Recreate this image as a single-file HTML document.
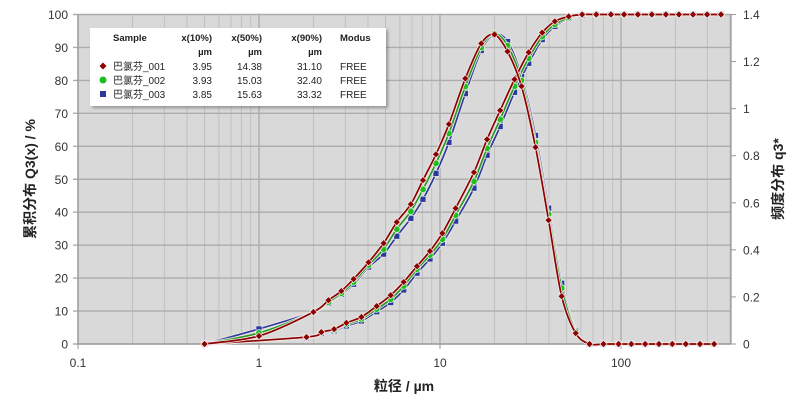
<!DOCTYPE html>
<html><head><meta charset="utf-8"><style>
body{margin:0;background:#fff;width:800px;height:414px;overflow:hidden}
svg text{font-family:"Liberation Sans","Noto Sans CJK SC",sans-serif}
</style></head><body>
<svg id="chart" width="800" height="414" xmlns="http://www.w3.org/2000/svg">
<defs><filter id="sh" x="-5%" y="-5%" width="115%" height="125%"><feDropShadow dx="2" dy="2" stdDeviation="1.5" flood-color="#666" flood-opacity="0.6"/></filter></defs>
<rect x="78" y="14.5" width="653" height="329.5" fill="#d9d9d9"/>
<g id="grid"></g>
<g id="axes"></g>
<g id="series"></g>
<g font-size="10" fill="#222">
<rect x="90" y="28" width="296" height="78" fill="#fff" filter="url(#sh)"/>
<text x="113" y="41" font-weight="bold" font-size="9.5">Sample</text>
<text x="212" y="41" text-anchor="end" font-weight="bold" font-size="9.5">x(10%)</text>
<text x="262" y="41" text-anchor="end" font-weight="bold" font-size="9.5">x(50%)</text>
<text x="322" y="41" text-anchor="end" font-weight="bold" font-size="9.5">x(90%)</text>
<text x="340" y="41" font-weight="bold" font-size="9.5">Modus</text>
<text x="212" y="55" text-anchor="end" font-weight="bold" font-size="9.5">µm</text>
<text x="262" y="55" text-anchor="end" font-weight="bold" font-size="9.5">µm</text>
<text x="322" y="55" text-anchor="end" font-weight="bold" font-size="9.5">µm</text>
<g><path d="M103 62.5l3.5 3.5-3.5 3.5-3.5-3.5z" fill="#8b0000"/><text x="113" y="70">巴氯芬_001</text><text x="212" y="70" text-anchor="end">3.95</text><text x="262" y="70" text-anchor="end">14.38</text><text x="322" y="70" text-anchor="end">31.10</text><text x="340" y="70">FREE</text></g>
<g><circle cx="103" cy="80" r="3.5" fill="#1cbf1c"/><text x="113" y="84">巴氯芬_002</text><text x="212" y="84" text-anchor="end">3.93</text><text x="262" y="84" text-anchor="end">15.03</text><text x="322" y="84" text-anchor="end">32.40</text><text x="340" y="84">FREE</text></g>
<g><rect x="100" y="91" width="6" height="6" fill="#2b3a9a"/><text x="113" y="98">巴氯芬_003</text><text x="212" y="98" text-anchor="end">3.85</text><text x="262" y="98" text-anchor="end">15.63</text><text x="322" y="98" text-anchor="end">33.32</text><text x="340" y="98">FREE</text></g>
</g>
<text transform="translate(35,179) rotate(-90)" text-anchor="middle" font-size="14" font-weight="bold" fill="#222">累积分布 Q3(x) / %</text>
<text transform="translate(783,179) rotate(-90)" text-anchor="middle" font-size="14" font-weight="bold" fill="#222">频度分布 q3*</text>
<text x="404" y="391" text-anchor="middle" font-size="14" font-weight="bold" fill="#222">粒径 / µm</text>
</svg>
<script>
const cumX=[0.5,1.83,2.21,2.6,3.04,3.68,4.47,5.34,6.3,7.46,8.8,10.3,12.2,15.4,18.2,21.5,25.8,30.9,36.7,43.1,51.4,61,73,88,104,124,148,177,209,250,299,357];
const cum001=[0,2.1,3.6,4.5,6.4,8.2,11.5,14.8,18.8,23.6,28.2,33.6,41.2,52.1,62.1,70.9,80.3,88.5,94.5,97.9,99.4,100,100,100,100,100,100,100,100,100,100,100];
const cum002=[0,2.1,3.5,4.3,6.0,7.6,10.6,13.6,17.6,22.7,27.0,31.8,39.1,49.4,59.4,68.2,78.2,86.7,93.3,97.0,99.0,100,100,100,100,100,100,100,100,100,100,100];
const cum003=[0,1.9,3.2,4.0,5.5,7.0,9.8,12.6,16.4,21.5,25.8,30.6,37.3,47.3,57.3,66.0,76.4,85.2,92.4,96.4,98.8,99.8,100,100,100,100,100,100,100,100,100,100];
const denX=[0.5,1,2,2.42,2.85,3.33,4.03,4.88,5.77,6.9,8.05,9.5,11.2,13.8,16.9,20,23.6,28.2,33.7,39.8,47,56.2,67,80,97,114,136,162,192,228,273,327];
const den001=[0,0.034,0.136,0.186,0.225,0.276,0.347,0.428,0.518,0.594,0.696,0.806,0.934,1.128,1.277,1.315,1.243,1.095,0.836,0.526,0.203,0.046,0,0,0,0,0,0,0,0,0,0];
const den002=[0,0.047,0.136,0.178,0.216,0.263,0.335,0.403,0.488,0.564,0.657,0.768,0.895,1.094,1.260,1.319,1.268,1.120,0.857,0.552,0.237,0.051,0,0,0,0,0,0,0,0,0,0];
const den003=[0,0.064,0.136,0.174,0.212,0.254,0.327,0.382,0.458,0.534,0.615,0.725,0.857,1.064,1.247,1.315,1.285,1.137,0.886,0.577,0.258,0.055,0,0,0,0,0,0,0,0,0,0];
const leftTicks=[0,10,20,30,40,50,60,70,80,90,100];
const rightTicks=[0,0.2,0.4,0.6,0.8,1,1.2,1.4];
const xTicks=[0.1,1,10,100];

const NS='http://www.w3.org/2000/svg';
const L=78,R=731,T=14.5,B=344,DEC=181;
const sx=v=>L+(Math.log10(v)+1)*DEC;
const sy=v=>B-(v/100)*(B-T);
const sy2=v=>B-(v/1.4)*(B-T);
function mk(tag,attrs,parent){const e=document.createElementNS(NS,tag);for(const k in attrs)e.setAttribute(k,attrs[k]);parent.appendChild(e);return e;}
const grid=document.getElementById('grid'),axes=document.getElementById('axes'),ser=document.getElementById('series');
for(let d=0.1;d<1000;d*=10){for(let m=1;m<10;m++){const v=d*m;const x=sx(v);if(x<L-0.5||x>R+0.5)continue;
 const g=mk('line',{x1:x,x2:x,y1:T,y2:B,stroke:m===1?'#adadad':'#c0c0c0','stroke-width':m===1?1.4:1},grid);
 
 }}
leftTicks.forEach(v=>{const y=sy(v);const g=mk('line',{x1:L-5,x2:R,y1:y,y2:y,stroke:'#adadad','stroke-width':1.4},grid);
 
 
 const t=mk('text',{x:L-10,y:y+4.5,'text-anchor':'end','font-size':12,fill:'#333'},axes);t.textContent=v;
 
 });
rightTicks.forEach(v=>{const y=sy2(v);mk('line',{x1:R,x2:R+5,y1:y,y2:y,stroke:'#999'},axes);
 const t=mk('text',{x:R+12,y:y+4.5,'font-size':12,fill:'#333'},axes);t.textContent=v;
 
 });
xTicks.forEach(v=>{const x=sx(v);mk('line',{x1:x,x2:x,y1:B,y2:B+5,stroke:'#999'},axes);
 const t=mk('text',{x:x,y:B+23,'text-anchor':'middle','font-size':12,fill:'#333'},axes);t.textContent=v;
 
 });
mk('line',{x1:L,x2:L,y1:T,y2:B,stroke:'#999','stroke-width':1.3},axes);
mk('line',{x1:R,x2:R,y1:T,y2:B,stroke:'#999','stroke-width':1.3},axes);
mk('line',{x1:L,x2:R,y1:B,y2:B,stroke:'#999','stroke-width':1.3},axes);

function draw(xs,ys,scale,color,mcolor,shape,name){
 const g=mk('g',{},ser);
 
 
 const pts=xs.map((x,i)=>[sx(x),scale(ys[i])]);
 let d='M'+pts[0][0]+' '+pts[0][1];
 for(let i=0;i<pts.length-1;i++){const p0=pts[Math.max(0,i-1)],p1=pts[i],p2=pts[i+1],p3=pts[Math.min(pts.length-1,i+2)];
  const k=0.16;d+=' C'+(p1[0]+(p2[0]-p0[0])*k)+' '+(p1[1]+(p2[1]-p0[1])*k)+' '+(p2[0]-(p3[0]-p1[0])*k)+' '+(p2[1]-(p3[1]-p1[1])*k)+' '+p2[0]+' '+p2[1];}
 mk('path',{d:d,fill:'none',stroke:'#f0e6e6','stroke-width':3.4},g);
 mk('path',{d:d,fill:'none',stroke:color,'stroke-width':1.7},g);
 pts.forEach(p=>{let m;
  if(shape==='d')m=mk('path',{d:`M${p[0]} ${p[1]-3.6}l3.6 3.6-3.6 3.6-3.6-3.6z`,fill:mcolor,stroke:'#f3e3e3','stroke-width':0.7},g);
  else if(shape==='c')m=mk('circle',{cx:p[0],cy:p[1],r:3.3,fill:mcolor,stroke:'#eaf3ea','stroke-width':0.7},g);
  else m=mk('rect',{x:p[0]-3,y:p[1]-3,width:6,height:6,fill:mcolor,stroke:'#e4e4f0','stroke-width':0.7},g);
  
  });
}
draw(cumX,cum003,sy,'#2d3c9c','#2b3a9a','s','cumulative-003');
draw(denX,den003,sy2,'#2d3c9c','#2b3a9a','s','density-003');
draw(cumX,cum002,sy,'#259a25','#1cbf1c','c','cumulative-002');
draw(denX,den002,sy2,'#259a25','#1cbf1c','c','density-002');
draw(cumX,cum001,sy,'#8b0000','#8b0000','d','cumulative-001');
draw(denX,den001,sy2,'#8b0000','#8b0000','d','density-001');
</script>
</body></html>
